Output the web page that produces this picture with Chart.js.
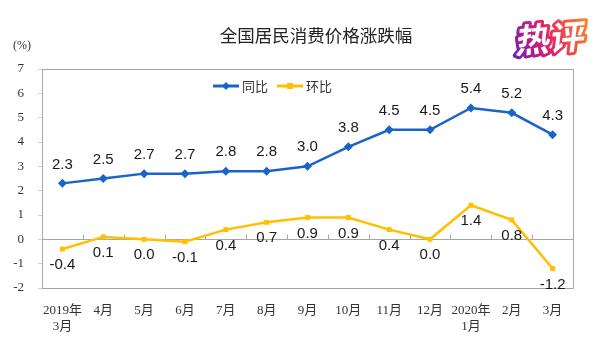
<!DOCTYPE html>
<html>
<head>
<meta charset="utf-8">
<script src="https://cdn.jsdelivr.net/npm/chart.js@4.4.1/dist/chart.umd.min.js"></script>
<style>
  html, body { margin: 0; padding: 0; background: #fff; }
</style>
</head>
<body>
<canvas id="chart" width="600" height="338"></canvas>
<script>
const months = [['2019年', '3月'], '4月', '5月', '6月', '7月', '8月', '9月', '10月', '11月', '12月', ['2020年', '1月'], '2月', '3月'];
const yoy = [2.3, 2.5, 2.7, 2.7, 2.8, 2.8, 3.0, 3.8, 4.5, 4.5, 5.4, 5.2, 4.3];
const mom = [-0.4, 0.1, 0.0, -0.1, 0.4, 0.7, 0.9, 0.9, 0.4, 0.0, 1.4, 0.8, -1.2];
const seriesNames = ['同比', '环比'];
const yMin = -2;
const yMax = 7;

const BLUE = '#1a64c8';
const GOLD = '#ffc000';
const AXIS = '#a6a6a6';
const SERIF = '"Liberation Serif", "Noto Sans CJK SC", serif';
const SANS = '"Liberation Sans", Arial, sans-serif';
const CJK = '"Noto Sans CJK SC", sans-serif';

// frame, zero line, labels, legend and headings
const decor = {
  id: 'decor',
  beforeDatasetsDraw(chart) {
    const { ctx, chartArea: a, scales: { x, y } } = chart;
    const y0 = Math.round(y.getPixelForValue(0)) + 0.5;
    ctx.save();
    ctx.strokeStyle = AXIS;
    ctx.lineWidth = 1;
    ctx.beginPath();
    ctx.moveTo(a.left, y0);
    ctx.lineTo(a.right, y0);
    for (let i = 1; i < months.length; i++) {
      const px = Math.round((x.getPixelForValue(i - 1) + x.getPixelForValue(i)) / 2) + 0.5;
      ctx.moveTo(px, y0);
      ctx.lineTo(px, y0 - 5);
    }
    ctx.stroke();
    ctx.restore();
  },
  afterDraw(chart) {
    const { ctx, chartArea: a } = chart;
    ctx.save();
    ctx.strokeStyle = AXIS;
    ctx.lineWidth = 1;
    ctx.strokeRect(Math.round(a.left) + 0.5, Math.round(a.top) + 0.5,
      Math.round(a.right - a.left), Math.round(a.bottom - a.top));

    // value labels
    ctx.font = '15px ' + SANS;
    ctx.fillStyle = '#1a1a1a';
    ctx.textAlign = 'center';
    ctx.textBaseline = 'middle';
    chart.data.datasets.forEach((ds, di) => {
      chart.getDatasetMeta(di).data.forEach((pt, i) => {
        const dy = di === 0 ? -19 : 16;
        ctx.fillText(ds.data[i].toFixed(1), pt.x, pt.y + dy);
      });
    });

    // legend
    let lx = 213;
    const ly = 86;
    ctx.font = '13px ' + CJK;
    ctx.textAlign = 'left';
    chart.data.datasets.forEach(ds => {
      ctx.strokeStyle = ds.borderColor;
      ctx.lineWidth = 3;
      ctx.beginPath();
      ctx.moveTo(lx, ly);
      ctx.lineTo(lx + 26, ly);
      ctx.stroke();
      ctx.fillStyle = ds.borderColor;
      ctx.beginPath();
      if (ds.pointStyle === 'rectRot') {
        ctx.moveTo(lx + 13, ly - 4);
        ctx.lineTo(lx + 17, ly);
        ctx.lineTo(lx + 13, ly + 4);
        ctx.lineTo(lx + 9, ly);
      } else {
        ctx.rect(lx + 10, ly - 3, 6, 6);
      }
      ctx.fill();
      ctx.fillStyle = '#333';
      ctx.fillText(ds.label, lx + 29, ly);
      lx += 64;
    });

    // title and unit
    ctx.fillStyle = '#222';
    ctx.textAlign = 'center';
    ctx.font = '17.5px ' + CJK;
    ctx.fillText('全国居民消费价格涨跌幅', 316, 35);
    ctx.font = '12px ' + SERIF;
    ctx.fillStyle = '#333';
    ctx.fillText('(%)', 22, 46);

    // badge
    ctx.translate(551, 38);
    ctx.transform(1, 0, -0.2, 1, 0, 0);
    ctx.rotate(-0.08);
    ctx.font = 'bold 34px ' + CJK;
    const g = ctx.createLinearGradient(-40, 20, 40, -20);
    g.addColorStop(0, '#5a1fc8');
    g.addColorStop(0.45, '#e0206a');
    g.addColorStop(1, '#ff9a1a');
    ctx.lineJoin = 'round';
    ctx.strokeStyle = g;
    ctx.lineWidth = 6;
    ctx.strokeText('热评', 0, 0);
    ctx.fillStyle = '#fff';
    ctx.fillText('热评', 0, 0);
    ctx.restore();
  }
};

new Chart(document.getElementById('chart'), {
  type: 'line',
  data: {
    labels: months,
    datasets: [
      {
        label: seriesNames[0],
        data: yoy,
        borderColor: BLUE,
        backgroundColor: BLUE,
        borderWidth: 2.5,
        pointStyle: 'rectRot',
        pointRadius: 4.5,
        pointBorderWidth: 0,
        tension: 0
      },
      {
        label: seriesNames[1],
        data: mom,
        borderColor: GOLD,
        backgroundColor: GOLD,
        borderWidth: 2.5,
        pointStyle: 'rect',
        pointRadius: 3.5,
        pointBorderWidth: 0,
        tension: 0
      }
    ]
  },
  options: {
    responsive: false,
    animation: false,
    layout: { padding: { top: 69, right: 27, left: 0, bottom: 0 } },
    plugins: {
      legend: { display: false },
      title: { display: false },
      tooltip: { enabled: false }
    },
    scales: {
      x: {
        offset: true,
        grid: { display: false },
        border: { display: false },
        ticks: {
          color: '#333',
          font: { family: SERIF, size: 13, lineHeight: 1.25 },
          padding: 6,
          maxRotation: 0,
          autoSkip: false
        },
        afterFit(s) { s.height = 50; }
      },
      y: {
        min: yMin,
        max: yMax,
        grid: { drawOnChartArea: false, tickLength: 4, color: '#d0d0d0' },
        border: { display: false },
        ticks: {
          stepSize: 1,
          color: '#333',
          font: { family: SERIF, size: 13 },
          padding: 14
        },
        afterFit(s) { s.width = 42; }
      }
    }
  },
  plugins: [decor]
});
</script>
</body>
</html>
